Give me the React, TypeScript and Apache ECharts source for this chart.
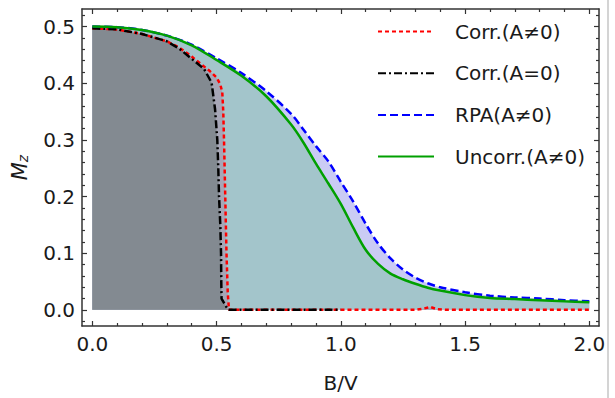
import React, { useEffect, useRef } from 'react';
import * as echarts from 'echarts';

// ---- data ----
const redX = [0, 0.1, 0.2, 0.3, 0.35, 0.4, 0.434, 0.474, 0.5, 0.515, 0.523, 0.527, 0.53, 0.535, 0.54, 0.545, 0.55, 1.3, 1.33, 1.36, 1.39, 1.42, 2.0];
const redY = [0.497, 0.495, 0.487, 0.474, 0.463, 0.447, 0.435, 0.421, 0.41, 0.398, 0.384, 0.35, 0.3, 0.2, 0.1, 0.03, 0, 0, 0.002, 0.005, 0.001, 0, 0];

const blackX = [0, 0.1, 0.2, 0.3, 0.35, 0.4, 0.45, 0.48, 0.494, 0.503, 0.507, 0.51, 0.515, 0.518, 0.519, 0.52, 0.546, 0.6, 0.8, 1.0];
const blackY = [0.497, 0.495, 0.487, 0.474, 0.461, 0.443, 0.425, 0.401, 0.354, 0.3, 0.25, 0.2, 0.15, 0.1, 0.05, 0.02, 0, 0, 0, 0];

const blueX = [0, 0.1, 0.2, 0.3, 0.4, 0.5, 0.6, 0.7, 0.8, 0.85, 0.9, 0.95, 1.0, 1.05, 1.1, 1.15, 1.2, 1.25, 1.3, 1.35, 1.4, 1.5, 1.6, 1.7, 1.8, 1.9, 2.0];
const blueY = [0.5, 0.499, 0.494, 0.484, 0.468, 0.444, 0.418, 0.386, 0.346, 0.318, 0.289, 0.262, 0.226, 0.191, 0.152, 0.117, 0.091, 0.071, 0.057, 0.047, 0.04, 0.031, 0.025, 0.022, 0.02, 0.017, 0.015];

const greenX = [0, 0.1, 0.2, 0.3, 0.4, 0.5, 0.6, 0.7, 0.8, 0.85, 0.9, 0.95, 1.0, 1.05, 1.1, 1.15, 1.2, 1.25, 1.3, 1.35, 1.4, 1.5, 1.6, 1.7, 1.8, 1.9, 2.0];
const greenY = [0.5, 0.499, 0.494, 0.484, 0.467, 0.441, 0.413, 0.377, 0.327, 0.295, 0.258, 0.223, 0.187, 0.145, 0.106, 0.081, 0.064, 0.054, 0.046, 0.039, 0.034, 0.026, 0.021, 0.019, 0.017, 0.015, 0.0135];

const seriesNames = ['Corr.(A≠0)', 'Corr.(A=0)', 'RPA(A≠0)', 'Uncorr.(A≠0)'];

const xMajor = [0, 0.5, 1, 1.5, 2];
const xMinor = [0.1, 0.2, 0.3, 0.4, 0.6, 0.7, 0.8, 0.9, 1.1, 1.2, 1.3, 1.4, 1.6, 1.7, 1.8, 1.9];
const yMajor = [0, 0.1, 0.2, 0.3, 0.4, 0.5];
const yMinor = [-0.02, 0.02, 0.04, 0.06, 0.08, 0.12, 0.14, 0.16, 0.18, 0.22, 0.24, 0.26, 0.28, 0.32, 0.34, 0.36, 0.38, 0.42, 0.44, 0.46, 0.48, 0.52];

const X_MIN = -0.0415;
const X_MAX = 2.039;
const Y_MIN = -0.0285;
const Y_MAX = 0.531;

const zip = (xs: number[], ys: number[]) => xs.map((x, i) => [x, ys[i]]);

export default function App() {
  const ref = useRef<HTMLDivElement>(null);
  useEffect(() => {
    const chart = echarts.init(ref.current!, null, { renderer: 'svg' });
    const font = 'DejaVu Sans';
    const frameColor = '#333';
    const textColor = '#1a1a1a';
    const lineStyle = { color: frameColor, width: 1.5 };

    const mkX = (position: string, ticks: number[], len: number, line: boolean, labels: boolean, extra: any = {}) => ({
      type: 'value',
      position,
      min: X_MIN,
      max: X_MAX,
      axisLine: { show: line, onZero: false, lineStyle },
      axisTick: { show: true, inside: true, length: len, customValues: ticks, lineStyle: { color: frameColor, width: 1.2 } },
      axisLabel: labels
        ? { show: true, customValues: ticks, formatter: (v: number) => v.toFixed(1), fontSize: 20, color: textColor, fontFamily: font, margin: 8 }
        : { show: false },
      splitLine: { show: false },
      ...extra,
    });
    const mkY = (position: string, ticks: number[], len: number, line: boolean, labels: boolean, extra: any = {}) => ({
      type: 'value',
      position,
      min: Y_MIN,
      max: Y_MAX,
      axisLine: { show: line, onZero: false, lineStyle },
      axisTick: { show: true, inside: true, length: len, customValues: ticks, lineStyle: { color: frameColor, width: 1.2 } },
      axisLabel: labels
        ? { show: true, customValues: ticks, formatter: (v: number) => v.toFixed(1), fontSize: 20, color: textColor, fontFamily: font, margin: 7 }
        : { show: false },
      splitLine: { show: false },
      ...extra,
    });

    const fill = (name: string, xs: number[], ys: number[], color: string, smooth: number) => ({
      type: 'line',
      name,
      data: zip(xs, ys),
      symbol: 'none',
      showSymbol: false,
      silent: true,
      smooth,
      lineStyle: { width: 0, opacity: 0 },
      areaStyle: { color, opacity: 1 },
      z: 1,
    });
    const line = (name: string, xs: number[], ys: number[], color: string, type: any, smooth: number) => ({
      type: 'line',
      name,
      data: zip(xs, ys),
      symbol: 'none',
      showSymbol: false,
      smooth,
      lineStyle: { color, width: 2.5, type },
      itemStyle: { color },
      z: 3,
    });

    chart.setOption({
      animation: false,
      backgroundColor: '#ffffff',
      grid: { left: 82, right: 16, top: 9, bottom: 69 },
      xAxis: [
        mkX('bottom', xMajor, 5, true, true, {
          name: 'B/V',
          nameLocation: 'middle',
          nameGap: 47,
          nameTextStyle: { fontSize: 20, color: textColor, fontFamily: font },
        }),
        mkX('bottom', xMinor, 3, false, false),
        mkX('top', xMajor, 5, true, false),
        mkX('top', xMinor, 3, false, false),
      ],
      yAxis: [
        mkY('left', yMajor, 5, true, true, {
          name: '{m|M}{z|z}',
          nameLocation: 'middle',
          nameGap: 52,
          nameRotate: 90,
          nameTextStyle: {
            color: textColor,
            fontFamily: font,
            rich: {
              m: { fontSize: 21, fontStyle: 'italic', fontFamily: font, color: textColor, verticalAlign: 'bottom' },
              z: { fontSize: 14, fontStyle: 'italic', fontFamily: font, color: textColor, verticalAlign: 'bottom' },
            },
          },
        }),
        mkY('left', yMinor, 3, false, false),
        mkY('right', yMajor, 5, true, false),
        mkY('right', yMinor, 3, false, false),
      ],
      legend: {
        data: seriesNames,
        orient: 'vertical',
        left: 372,
        top: 16.5,
        itemWidth: 56,
        itemHeight: 14,
        itemGap: 21.7,
        padding: 5,
        itemStyle: { color: 'rgba(0,0,0,0)', borderWidth: 0, opacity: 0 },
        textStyle: { fontSize: 20, color: textColor, fontFamily: font, padding: [0, 0, 0, 16] },
      },
      graphic: [
        { type: 'line', shape: { x1: 608, y1: 0, x2: 608, y2: 398 }, style: { stroke: '#d4d4d4', lineWidth: 2 }, silent: true },
      ],
      series: [
        fill('fillBlue', blueX, blueY, '#cacbf4', 0.3),
        fill('fillGreen', greenX, greenY, '#a3c5cb', 0.3),
        fill('fillRed', redX, redY, '#a6a6b6', 0),
        fill('fillBlack', blackX, blackY, '#838a91', 0),
        line(seriesNames[0], redX, redY, '#ff0000', [4, 3], 0),
        line(seriesNames[1], blackX, blackY, '#000000', [8, 3, 2, 3], 0),
        line(seriesNames[2], blueX, blueY, '#0000ff', [8, 4], 0.3),
        line(seriesNames[3], greenX, greenY, '#00a000', 'solid', 0.3),
      ],
    });
    return () => chart.dispose();
  }, []);
  return <div ref={ref} style={{ position: 'fixed', left: 0, top: 0, width: 615, height: 398 }} />;
}
